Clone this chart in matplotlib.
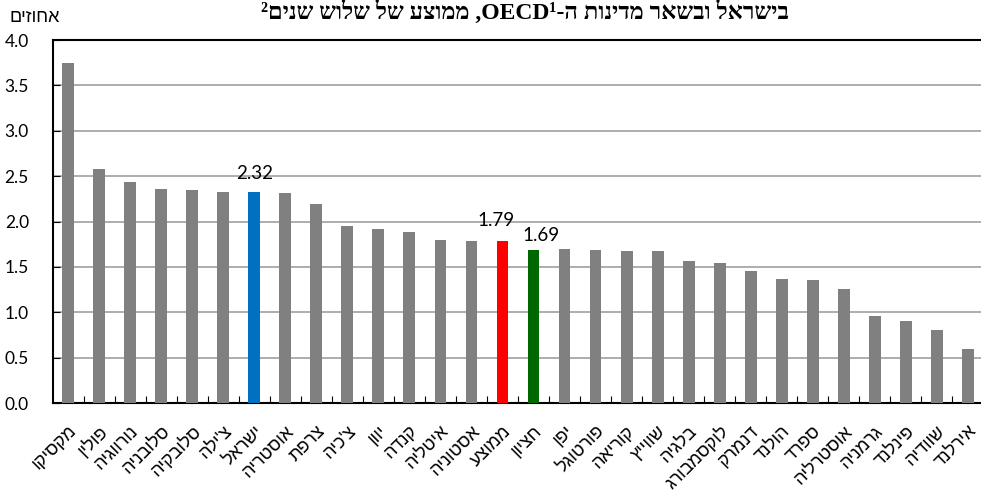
import re
import matplotlib
matplotlib.use("Agg")
import matplotlib.pyplot as plt

countries = ["מקסיקו", "פולין", "נורווגיה", "סלובניה", "סלובקיה", "צ'ילה", "ישראל",
             "אוסטריה", "צרפת", "צ'כיה", "יוון", "קנדה", "איטליה", "אסטוניה",
             "ממוצע", "חציון", "יפן", "פורטוגל", "קוריאה", "שווייץ", "בלגיה",
             "לוקסמבורג", "דנמרק", "הולנד", "ספרד", "אוסטרליה", "גרמניה",
             "פינלנד", "שוודיה", "אירלנד"]
values = [3.75, 2.58, 2.44, 2.36, 2.35, 2.33, 2.32, 2.31, 2.19, 1.95, 1.92, 1.88,
          1.80, 1.79, 1.79, 1.69, 1.70, 1.69, 1.68, 1.68, 1.56, 1.54, 1.46, 1.37,
          1.36, 1.26, 0.96, 0.90, 0.80, 0.60]
highlight_colors = {"ישראל": "#0070C0", "ממוצע": "#FF0000", "חציון": "#006600"}
labeled = {"ישראל": "2.32", "ממוצע": "1.79", "חציון": "1.69"}
label_offsets = {"ישראל": (0, 10), "ממוצע": (-6, 12), "חציון": (7, 6)}
yticks = [0.0, 0.5, 1.0, 1.5, 2.0, 2.5, 3.0, 3.5, 4.0]
title = "בישראל ובשאר מדינות ה-OECD¹, ממוצע של שלוש שנים²"
ylabel = "אחוזים"


def vis(s):
    """Convert logical RTL string into visual LTR order for matplotlib."""
    r = s[::-1]
    return re.sub(r"[A-Za-z0-9¹²]+", lambda m: m.group(0)[::-1], r)


heb = ["Liberation Sans", "DejaVu Sans"]
num = ["Lato", "DejaVu Sans"]

fig = plt.figure(figsize=(9.81, 4.95), dpi=100)
ax = fig.add_axes([52.5 / 981, 1 - 403 / 495, 931 / 981, 363 / 495])

x = list(range(len(countries)))
colors = [highlight_colors.get(c, "#808080") for c in countries]
ax.bar(x, values, width=0.38, color=colors, zorder=3)

for i, c in enumerate(countries):
    if c in labeled:
        ax.annotate(labeled[c], (i, values[i]), xytext=label_offsets[c],
                    textcoords="offset pixels", ha="center", va="bottom",
                    fontsize=13.5, family=num, zorder=4)

ax.set_xlim(-0.5, len(countries) - 0.5)
ax.set_ylim(0, 4)
ax.set_yticks(yticks)
ax.set_yticklabels([f"{v:.1f}" for v in yticks], fontfamily=num, fontsize=12.5)
ax.yaxis.grid(True, color="#A0A0A0", linewidth=1.2, zorder=0)
ax.set_axisbelow(True)

ax.set_xticks(x)
ax.set_xticklabels([vis(c) for c in countries], rotation=45, ha="right",
                   rotation_mode="anchor", fontfamily=heb, fontsize=13)
ax.set_xticks([i + 0.5 for i in x[:-1]], minor=True)
ax.tick_params(axis="x", which="major", length=0, pad=14)
ax.tick_params(axis="x", which="minor", length=5, direction="in", width=0.8)
ax.tick_params(axis="y", length=5, direction="in", width=0.8, pad=17)

for s in ["left", "bottom", "top"]:
    ax.spines[s].set_linewidth(1.5)
    ax.spines[s].set_color("black")
ax.spines["right"].set_visible(False)

fig.text(60 / 981, 1 - 17 / 495, vis(ylabel), ha="right", va="center",
         fontfamily=heb, fontsize=13)
fig.text(525 / 981, 1 - 19 / 495, vis(title), ha="center", va="baseline",
         fontfamily=["Liberation Serif", "DejaVu Serif"], fontweight="bold", fontsize=17)

fig.savefig("out.png", dpi=100)
